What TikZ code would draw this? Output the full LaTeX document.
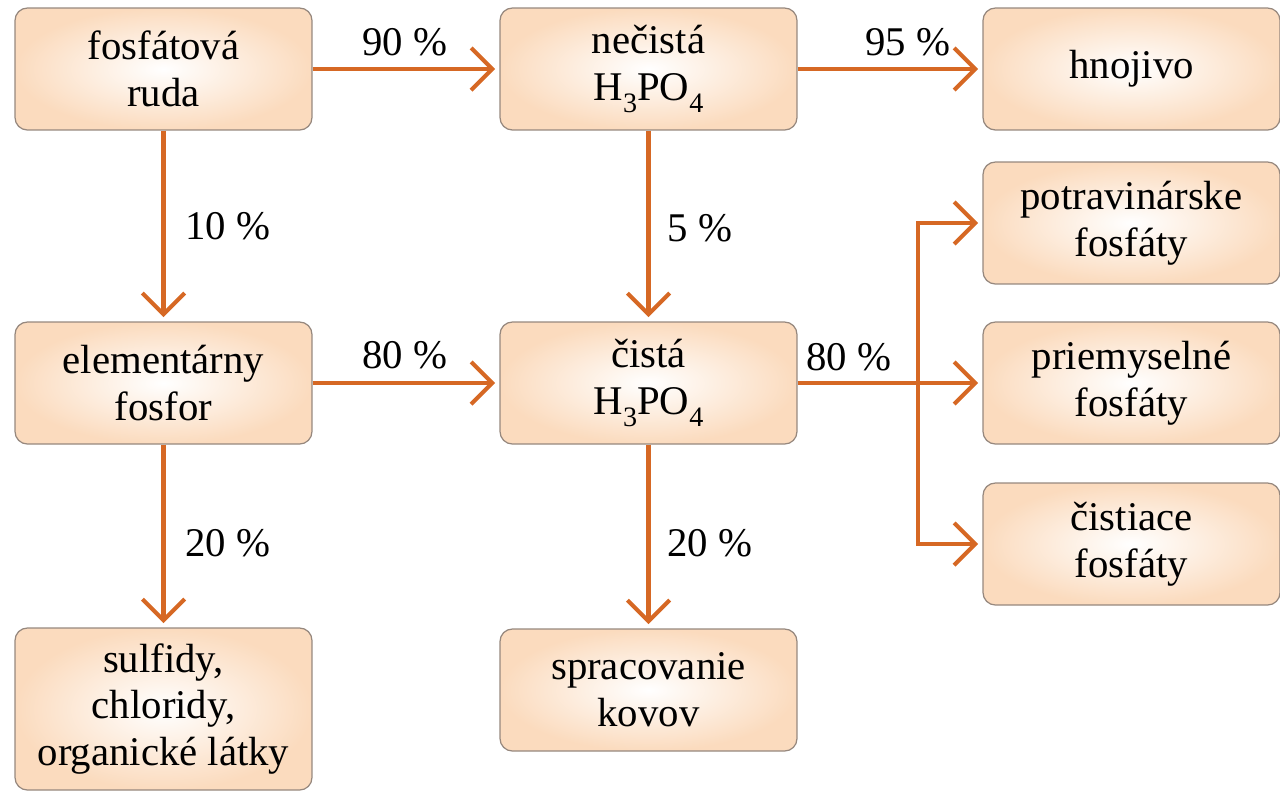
\documentclass[tikz,border=0pt]{standalone}
\usepackage{fontspec}
\setmainfont{LiberationSerif}[Extension=.ttf, UprightFont=*-Regular, BoldFont=*-Bold]
\usetikzlibrary{arrows.meta}
\definecolor{flowc}{RGB}{214,104,36}
\definecolor{boxedge}{RGB}{150,136,126}
\definecolor{boxout}{RGB}{251,219,190}
\newcommand{\subsc}[1]{\raisebox{-0.3em}{\fontsize{16}{16}\selectfont #1}}
\tikzset{
  box/.style={draw=boxedge, line width=0.7pt, rounded corners=7pt,
    inner color=white, outer color=boxout,
    minimum width=5.94cm, minimum height=2.44cm, align=center,
    font=\rmfamily\fontsize{23.2}{26.6}\selectfont},
  flow/.style={draw=flowc, line width=2.3pt,
    -{Straight Barb[length=12pt,width=24pt,line width=2.3pt]}, shorten >=2.5pt},
  bar/.style={draw=flowc, line width=2.3pt},
  pct/.style={font=\rmfamily\fontsize{23.2}{26.6}\selectfont}
}
\begin{document}
\begin{tikzpicture}[x=0.02cm,y=-0.02cm]
\useasboundingbox (0,0) rectangle (1280,792);
\node[box] (ruda) at (163.5,69) {fosfátová\\ruda};
\node[box] (necista) at (648.5,69) {nečistá\\H\subsc{3}PO\subsc{4}};
\node[box] (hnoj) at (1131.5,69) {hnojivo};
\node[box] (potrav) at (1131.5,223) {potravinárske\\fosfáty};
\node[box] (elem) at (163.5,383) {elementárny\\fosfor};
\node[box] (cista) at (648.5,383) {čistá\\H\subsc{3}PO\subsc{4}};
\node[box] (priem) at (1131.5,383) {priemyselné\\fosfáty};
\node[box] (cistiace) at (1131.5,544) {čistiace\\fosfáty};
\node[box, minimum height=3.24cm] (sulf) at (163.5,709) {sulfidy,\\chloridy,\\organické látky};
\node[box] (sprac) at (648.5,690) {spracovanie\\kovov};
\coordinate (bus) at (918,383);

\draw[flow] (ruda) -- (necista);
\draw[flow] (necista) -- (hnoj);
\draw[flow] (ruda) -- (elem);
\draw[flow] (necista) -- (cista);
\draw[flow] (elem) -- (cista);
\draw[flow] (cista) -- (priem);
\draw[flow] (elem) -- (sulf);
\draw[flow] (cista) -- (sprac);
\draw[bar, line cap=rect] (bus |- potrav.west) -- (bus |- cistiace.west);
\draw[flow] (bus |- potrav.west) -- (potrav.west);
\draw[flow] (bus |- cistiace.west) -- (cistiace.west);

\node[pct] (l1) at (405,42) {90~\%};
\node[pct] (l2) at (908,42) {95~\%};
\node[pct] (l3) at (228,226) {10~\%};
\node[pct] (l4) at (700,228) {5~\%};
\node[pct] (l5) at (405,355) {80~\%};
\node[pct] (l6) at (849,357) {80~\%};
\node[pct] (l7) at (228,543) {20~\%};
\node[pct] (l8) at (710,543) {20~\%};
\end{tikzpicture}
\end{document}
